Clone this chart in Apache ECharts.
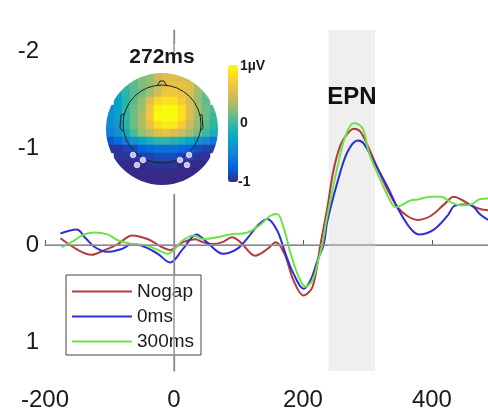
<!DOCTYPE html>
<html>
<head>
<meta charset="utf-8">
<script src="https://cdn.jsdelivr.net/npm/echarts@6/dist/echarts.min.js"></script>
<style>
html,body{margin:0;padding:0;background:#fff;}
#chart{width:488px;height:412px;}
</style>
</head>
<body>
<div id="chart"></div>
<script>
// ---- data ----
const xTicks = [-200, 0, 200, 400];
const yTicks = [-2, -1, 0, 1];
const seriesNames = ['Nogap', '0ms', '300ms'];
const seriesColors = ['#B53A3A', '#2E2ED6', '#6EE24A'];
const epnWindow = [240, 312];

const nogapData = [[-176,-0.07],[-149,0.05],[-128,0.10],[-107,0.05],[-87,-0.01],[-65,-0.10],[-40,-0.06],[-19,0.02],[-6,0.05],[14,-0.03],[33,-0.06],[45,-0.03],[61,-0.01],[75,-0.03],[90,-0.08],[103,-0.03],[126,0.11],[145,0.04],[158,-0.03],[172,0.10],[185,0.36],[201,0.52],[215,0.43],[227,0.00],[238,-0.39],[247,-0.76],[258,-1.03],[269,-1.15],[279,-1.20],[289,-1.17],[300,-1.03],[316,-0.79],[332,-0.56],[347,-0.39],[362,-0.30],[378,-0.26],[398,-0.30],[419,-0.42],[434,-0.50],[448,-0.46],[461,-0.41],[476,-0.37],[487,-0.36]];

const ms0Data = [[-176,-0.12],[-151,-0.16],[-137,-0.07],[-123,0.02],[-104,0.07],[-81,0.04],[-65,-0.01],[-45,0.02],[-25,0.09],[-6,0.18],[14,0.04],[35,-0.11],[51,-0.03],[76,0.09],[98,0.04],[115,-0.08],[131,-0.21],[145,-0.27],[160,-0.15],[173,0.09],[185,0.29],[201,0.45],[212,0.36],[223,0.15],[232,0.00],[238,-0.25],[254,-0.66],[269,-0.96],[285,-1.08],[294,-1.05],[310,-0.86],[332,-0.59],[347,-0.38],[367,-0.17],[380,-0.11],[403,-0.16],[425,-0.31],[434,-0.40],[448,-0.42],[461,-0.41],[476,-0.31],[487,-0.26]];

const ms300Data = [[-174,0.02],[-159,-0.03],[-139,-0.11],[-123,-0.13],[-103,-0.11],[-87,-0.05],[-65,-0.01],[-45,0.00],[-25,0.05],[-10,0.09],[14,-0.05],[30,-0.10],[45,-0.06],[67,-0.08],[87,-0.11],[114,-0.13],[134,-0.21],[149,-0.30],[160,-0.32],[170,-0.18],[181,0.09],[193,0.32],[204,0.43],[215,0.36],[224,0.15],[230,0.00],[238,-0.31],[254,-0.82],[266,-1.13],[279,-1.26],[293,-1.20],[302,-0.96],[321,-0.66],[336,-0.45],[344,-0.39],[352,-0.41],[367,-0.46],[378,-0.47],[398,-0.50],[414,-0.50],[430,-0.44],[445,-0.41],[461,-0.42],[473,-0.47],[487,-0.48]];

// topography at 272 ms (rows top->bottom, columns left->right), µV
const topoRows = [
  [null,null,null,0.15,0.20,0.25,0.45,0.55,0.55,0.50,0.35,null,null,null],
  [null,null,0.00,0.10,0.20,0.25,0.40,0.55,0.60,0.60,0.55,0.30,null,null],
  [null,-0.25,-0.05,0.10,0.15,0.30,0.50,0.65,0.65,0.60,0.55,0.30,0.15,null],
  [null,-0.30,-0.10,0.10,0.25,0.55,0.80,0.85,0.85,0.70,0.50,0.25,0.10,null],
  [-0.40,-0.30,-0.05,0.15,0.30,0.65,0.95,1.00,1.00,0.85,0.55,0.30,0.15,0.05],
  [-0.45,-0.30,-0.05,0.15,0.35,0.70,1.00,1.00,1.00,0.85,0.55,0.30,0.15,0.00],
  [-0.45,-0.35,-0.10,0.15,0.35,0.60,0.85,0.90,0.90,0.70,0.45,0.25,0.10,-0.05],
  [-0.55,-0.40,-0.20,0.05,0.25,0.40,0.55,0.60,0.55,0.45,0.30,0.15,0.00,-0.15],
  [-0.80,-0.70,-0.55,-0.40,-0.25,-0.15,-0.05,-0.05,-0.10,-0.15,-0.25,-0.40,-0.50,-0.60],
  [-0.95,-0.95,-0.90,-0.85,-0.75,-0.70,-0.65,-0.65,-0.65,-0.70,-0.75,-0.85,-0.90,-0.90],
  [null,-0.95,-0.95,-0.95,-0.90,-0.90,-0.85,-0.85,-0.85,-0.90,-0.90,-0.95,-0.95,null],
  [null,-1,-1,-1,-1,-0.95,-0.95,-0.95,-0.95,-1,-1,-1,-1,null],
  [null,null,-1,-1,-1,-1,-1,-1,-1,-1,-1,-1,null,null],
  [null,null,null,-1,-1,-1,-1,-1,-1,-1,-1,null,null,null]
];
const topoTitle = '272ms';
const colorbarLabels = ['1µV', '0', '-1'];
const parula = ['#352A87','#0363E1','#1485D4','#06A7C6','#38B99E','#92BF73','#D9BA56','#FCCE2E','#F9FB0E'];

// ---- build ----
const topoCats = topoRows[0].map((_, i) => String(i));
const topoData = [];
topoRows.forEach((row, r) => row.forEach((v, c) => { if (v !== null) topoData.push([c, r, v]); }));

const FONT = 'Liberation Sans, Arial, Helvetica, sans-serif';
const chart = echarts.init(document.getElementById('chart'), null, {renderer: 'canvas'});

const curveSeries = [nogapData, ms0Data, ms300Data].map((d, i) => ({
  name: seriesNames[i],
  type: 'line',
  data: d,
  symbol: 'none',
  smooth: 0.35,
  z: 3,
  lineStyle: {color: seriesColors[i], width: 2},
  itemStyle: {color: seriesColors[i]},
  silent: true,
  animation: false
}));

const option = {
  animation: false,
  textStyle: {fontFamily: FONT},
  grid: [
    {left: 45, top: 30, right: 0, bottom: 36},
    {left: 106, top: 73, width: 112, height: 112}
  ],
  xAxis: [
    {
      type: 'value', min: -200, max: 487,
      axisLine: {show: true, lineStyle: {color: '#555', width: 1.2}},
      axisTick: {show: true, inside: true, length: 5, customValues: xTicks, lineStyle: {color: '#555'}},
      axisLabel: {customValues: xTicks, fontSize: 24, color: '#1a1a1a', margin: 17, fontFamily: FONT},
      splitLine: {show: false}
    },
    {type: 'category', gridIndex: 1, data: topoCats, show: false}
  ],
  yAxis: [
    {
      type: 'value', inverse: true, min: -2.22, max: 1.30,
      axisLine: {show: true, lineStyle: {color: '#555', width: 1.2}},
      axisTick: {show: true, inside: true, length: 5, customValues: yTicks, lineStyle: {color: '#555'}},
      axisLabel: {customValues: yTicks, fontSize: 24, color: '#1a1a1a', margin: 6, fontFamily: FONT},
      splitLine: {show: false}
    },
    {type: 'category', gridIndex: 1, data: topoCats, inverse: true, show: false}
  ],
  legend: {
    orient: 'vertical',
    left: 66, top: 275,
    padding: [7, 7, 4, 6],
    itemGap: 6,
    icon: 'rect',
    itemWidth: 60, itemHeight: 2,
    borderColor: '#444', borderWidth: 1,
    backgroundColor: '#fff',
    data: seriesNames,
    textStyle: {fontSize: 19, lineHeight: 19, color: '#1a1a1a', fontFamily: FONT},
    selectedMode: false
  },
  visualMap: {
    type: 'continuous',
    seriesIndex: 5,
    min: -1, max: 1,
    calculable: false,
    hoverLink: false,
    left: 228, top: 65,
    itemWidth: 10, itemHeight: 117,
    padding: 0,
    inRange: {color: parula},
    text: null,
    show: true
  },
  graphic: [
    {type: 'rect', z: 4, silent: true, shape: {x: 100, y: 44, width: 126, height: 145}, style: {fill: '#fff'}},
    {type: 'ring', z: 6, silent: true, shape: {cx: 162, cy: 129, r: 66, r0: 56}, style: {fill: '#fff'}},
    {type: 'circle', z: 7, silent: true, shape: {cx: 162, cy: 124, r: 39}, style: {fill: null, stroke: '#222', lineWidth: 1}},
    {type: 'polyline', z: 7, silent: true, shape: {points: [[157,86],[160,81],[164,81],[167,86]]}, style: {fill: null, stroke: '#222', lineWidth: 1}},
    {type: 'polyline', z: 7, silent: true, shape: {points: [[124,114],[121,115],[120,128],[123,131]]}, style: {fill: null, stroke: '#222', lineWidth: 1}},
    {type: 'polyline', z: 7, silent: true, shape: {points: [[199,114],[202,115],[203,128],[200,131]]}, style: {fill: null, stroke: '#222', lineWidth: 1}},
    ...[[133,155],[143,160],[137,165],[180,160],[189,155],[187,165]].map(p => ({
      type: 'circle', z: 7, silent: true, shape: {cx: p[0], cy: p[1], r: 2.8},
      style: {fill: '#cdbdf2', stroke: '#ece6ff', lineWidth: 0.8}
    })),
    {type: 'text', z: 7, silent: true, style: {text: topoTitle, x: 162, y: 57, textAlign: 'center', textVerticalAlign: 'middle', font: 'bold 21px ' + FONT, fill: '#1a1a1a'}},
    {type: 'text', z: 7, silent: true, style: {text: colorbarLabels[0], x: 240, y: 66, textAlign: 'left', textVerticalAlign: 'middle', font: 'bold 14px ' + FONT, fill: '#1a1a1a'}},
    {type: 'text', z: 7, silent: true, style: {text: colorbarLabels[1], x: 240, y: 123, textAlign: 'left', textVerticalAlign: 'middle', font: 'bold 14px ' + FONT, fill: '#1a1a1a'}},
    {type: 'text', z: 7, silent: true, style: {text: colorbarLabels[2], x: 238, y: 182, textAlign: 'left', textVerticalAlign: 'middle', font: 'bold 14px ' + FONT, fill: '#1a1a1a'}}
  ],
  series: [
    {
      type: 'line', data: [], z: 1, silent: true,
      markArea: {
        silent: true,
        itemStyle: {color: '#efefef'},
        label: {show: true, position: 'insideTop', distance: 55, fontSize: 24, fontWeight: 'bold', color: '#111', fontFamily: FONT},
        data: [[{xAxis: epnWindow[0], name: 'EPN'}, {xAxis: epnWindow[1]}]]
      }
    },
    {
      type: 'line', data: [], z: 2, silent: true,
      markLine: {
        silent: true, symbol: 'none', label: {show: false},
        lineStyle: {color: '#9a9a9a', width: 1.5, type: 'solid'},
        data: [{xAxis: 0}, {yAxis: 0}]
      }
    },
    ...curveSeries,
    {
      type: 'heatmap', xAxisIndex: 1, yAxisIndex: 1, data: topoData, z: 5, silent: true,
      itemStyle: {borderWidth: 0}, emphasis: {disabled: true}, progressive: 0
    }
  ]
};
chart.setOption(option);
</script>
</body>
</html>
